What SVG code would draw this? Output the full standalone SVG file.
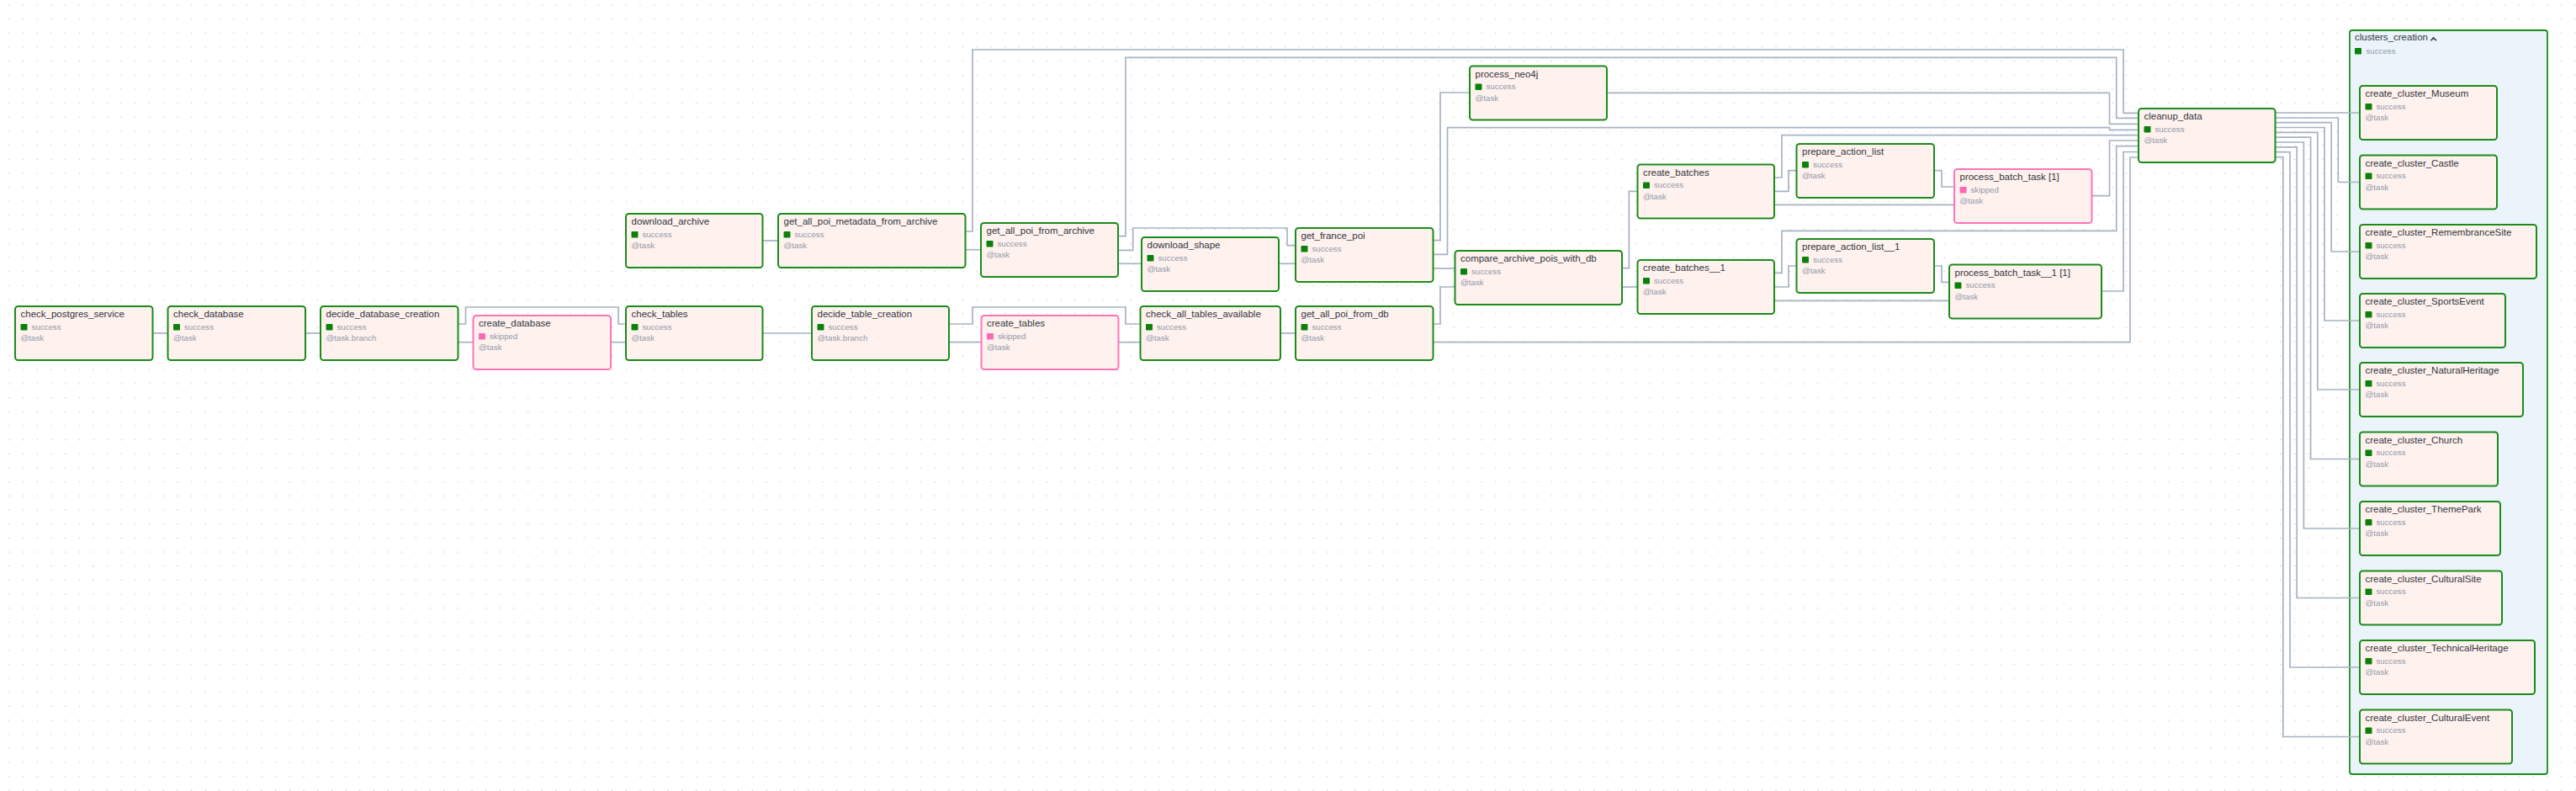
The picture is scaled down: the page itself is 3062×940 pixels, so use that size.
<svg xmlns="http://www.w3.org/2000/svg" width="3062" height="940" viewBox="0 0 3062 940">
<defs>
<pattern id="dots" x="2.67" y="-2.33" width="16.667" height="16.667" patternUnits="userSpaceOnUse"><circle cx="8.33" cy="8.33" r="0.75" fill="#c4c4c4"/></pattern>
<style>
.bg{fill:url(#dots)}
.node rect.box{fill:#fff1ee;stroke:#1a8c1a;stroke-width:2}
.node.skip rect.box{stroke:#ff74b8}
.sq{fill:#0a820a}
.skip .sq{fill:#ff69b4}
.t{font-family:"Liberation Sans",Arial,sans-serif;font-size:11.5px;fill:#2f3640}
.s{font-family:"Liberation Sans",Arial,sans-serif;font-size:9.7px;fill:#8f99aa}
.edges polyline{fill:none;stroke:#a6b2c4;stroke-width:1.7;stroke-linejoin:miter}
.grp{fill:#ecf4fb;stroke:#1a8c1a;stroke-width:1.8}
</style>
</defs>
<rect width="3062" height="940" fill="#ffffff"/>
<rect width="3062" height="940" class="bg"/>

<g id="clusters_creation">
<rect class="grp" x="2793" y="36" width="235" height="884" rx="3"/>
<text class="t" x="2799" y="48.3">clusters_creation</text>
<polyline points="2889.5,48.3 2892.7,45 2895.9,48.3" fill="none" stroke="#2f3640" stroke-width="1.6"/>
<rect class="sq" x="2799" y="57" width="8" height="7.5" rx="1"/>
<text class="s" x="2812.5" y="63.5">success</text>
</g>

<g id="edges" class="edges">
<polyline points="181.5,396 199.5,396"/>
<polyline points="363,396 381,396"/>
<polyline points="544.5,385 553.5,385 553.5,365 735,365 735,385 744,385"/>
<polyline points="544.5,406.7 562.5,406.7"/>
<polyline points="726,406.7 744,406.7"/>
<polyline points="906.5,396 965,396"/>
<polyline points="906.5,286 925,286"/>
<polyline points="1128,385 1156,385 1156,365 1338,365 1338,385 1355.5,385"/>
<polyline points="1128,406.7 1166.5,406.7"/>
<polyline points="1329.5,406.7 1355.5,406.7"/>
<polyline points="1147.5,296.7 1166,296.7"/>
<polyline points="1147.5,275 1156,275 1156,59 2524,59 2524,134.3 2542,134.3"/>
<polyline points="1329,280.7 1338,280.7 1338,68.3 2515.7,68.3 2515.7,140.3 2542,140.3"/>
<polyline points="1329,297.3 1346.7,297.3 1346.7,271 1530,271 1530,291.7 1540,291.7"/>
<polyline points="1329,313.3 1357,313.3"/>
<polyline points="1520,313.3 1540,313.3"/>
<polyline points="1522,396 1540,396"/>
<polyline points="1703.5,285.7 1712,285.7 1712,110 1747,110"/>
<polyline points="1703.5,302.3 1720.5,302.3 1720.5,151.7 2507.5,151.7 2507.5,154.3 2542,154.3"/>
<polyline points="1703.5,319 1729.5,319"/>
<polyline points="1703.5,385 1712,385 1712,341 1729.5,341"/>
<polyline points="1703.5,406.7 2532,406.7 2532,187 2542,187"/>
<polyline points="1910,110.3 2507.5,110.3 2507.5,147.3 2542,147.3"/>
<polyline points="1928,318.7 1936.4,318.7 1936.4,227.3 1946.5,227.3"/>
<polyline points="1928,341 1946.5,341"/>
<polyline points="2109,211 2118,211 2118,160.7 2542,160.7"/>
<polyline points="2109,227.3 2126,227.3 2126,202.7 2135.5,202.7"/>
<polyline points="2109,243.3 2323,243.3"/>
<polyline points="2109,324.3 2118,324.3 2118,274.3 2515.7,274.3 2515.7,173.7 2542,173.7"/>
<polyline points="2109,341 2126,341 2126,316 2135.5,316"/>
<polyline points="2109,357.3 2317,357.3"/>
<polyline points="2299,202.7 2308,202.7 2308,222 2323,222"/>
<polyline points="2299,316 2308,316 2308,335.3 2317,335.3"/>
<polyline points="2486.5,232.7 2507.5,232.7 2507.5,167 2542,167"/>
<polyline points="2498,346 2524,346 2524,180.5 2542,180.5"/>
<polyline points="2704.5,134 2805,134"/>
<polyline points="2704.5,140 2779.3,140 2779.3,216.5 2805,216.5"/>
<polyline points="2704.5,145.7 2771.2,145.7 2771.2,299 2805,299"/>
<polyline points="2704.5,151.5 2763,151.5 2763,381 2805,381"/>
<polyline points="2704.5,157.3 2754.8,157.3 2754.8,463 2805,463"/>
<polyline points="2704.5,163.2 2746.6,163.2 2746.6,545.5 2805,545.5"/>
<polyline points="2704.5,169 2738.4,169 2738.4,628 2805,628"/>
<polyline points="2704.5,174.9 2730.2,174.9 2730.2,710.5 2805,710.5"/>
<polyline points="2704.5,180.7 2722,180.7 2722,793 2805,793"/>
<polyline points="2704.5,186.6 2713.8,186.6 2713.8,875.5 2805,875.5"/>
</g>

<g id="check_postgres_service" class="node" transform="translate(18,364)"><rect class="box" width="163.5" height="64" rx="3.5"/><text class="t" x="6.5" y="13">check_postgres_service</text><rect class="sq" x="6.5" y="21" width="8" height="7.5" rx="1"/><text class="s" x="19.5" y="27.5">success</text><text class="s" x="6.5" y="41">@task</text></g>
<g id="check_database" class="node" transform="translate(199.5,364)"><rect class="box" width="163.5" height="64" rx="3.5"/><text class="t" x="6.5" y="13">check_database</text><rect class="sq" x="6.5" y="21" width="8" height="7.5" rx="1"/><text class="s" x="19.5" y="27.5">success</text><text class="s" x="6.5" y="41">@task</text></g>
<g id="decide_database_creation" class="node" transform="translate(381,364)"><rect class="box" width="163.5" height="64" rx="3.5"/><text class="t" x="6.5" y="13">decide_database_creation</text><rect class="sq" x="6.5" y="21" width="8" height="7.5" rx="1"/><text class="s" x="19.5" y="27.5">success</text><text class="s" x="6.5" y="41">@task.branch</text></g>
<g id="create_database" class="node skip" transform="translate(562.5,375)"><rect class="box" width="163.5" height="64" rx="3.5"/><text class="t" x="6.5" y="13">create_database</text><rect class="sq" x="6.5" y="21" width="8" height="7.5" rx="1"/><text class="s" x="19.5" y="27.5">skipped</text><text class="s" x="6.5" y="41">@task</text></g>
<g id="download_archive" class="node" transform="translate(744,254)"><rect class="box" width="162.5" height="64" rx="3.5"/><text class="t" x="6.5" y="13">download_archive</text><rect class="sq" x="6.5" y="21" width="8" height="7.5" rx="1"/><text class="s" x="19.5" y="27.5">success</text><text class="s" x="6.5" y="41">@task</text></g>
<g id="check_tables" class="node" transform="translate(744,364)"><rect class="box" width="162.5" height="64" rx="3.5"/><text class="t" x="6.5" y="13">check_tables</text><rect class="sq" x="6.5" y="21" width="8" height="7.5" rx="1"/><text class="s" x="19.5" y="27.5">success</text><text class="s" x="6.5" y="41">@task</text></g>
<g id="get_all_poi_metadata_from_archive" class="node" transform="translate(925,254)"><rect class="box" width="222.5" height="64" rx="3.5"/><text class="t" x="6.5" y="13">get_all_poi_metadata_from_archive</text><rect class="sq" x="6.5" y="21" width="8" height="7.5" rx="1"/><text class="s" x="19.5" y="27.5">success</text><text class="s" x="6.5" y="41">@task</text></g>
<g id="decide_table_creation" class="node" transform="translate(965,364)"><rect class="box" width="163" height="64" rx="3.5"/><text class="t" x="6.5" y="13">decide_table_creation</text><rect class="sq" x="6.5" y="21" width="8" height="7.5" rx="1"/><text class="s" x="19.5" y="27.5">success</text><text class="s" x="6.5" y="41">@task.branch</text></g>
<g id="get_all_poi_from_archive" class="node" transform="translate(1166,265)"><rect class="box" width="163" height="64" rx="3.5"/><text class="t" x="6.5" y="13">get_all_poi_from_archive</text><rect class="sq" x="6.5" y="21" width="8" height="7.5" rx="1"/><text class="s" x="19.5" y="27.5">success</text><text class="s" x="6.5" y="41">@task</text></g>
<g id="create_tables" class="node skip" transform="translate(1166.5,375)"><rect class="box" width="163" height="64" rx="3.5"/><text class="t" x="6.5" y="13">create_tables</text><rect class="sq" x="6.5" y="21" width="8" height="7.5" rx="1"/><text class="s" x="19.5" y="27.5">skipped</text><text class="s" x="6.5" y="41">@task</text></g>
<g id="download_shape" class="node" transform="translate(1357,282)"><rect class="box" width="163" height="64" rx="3.5"/><text class="t" x="6.5" y="13">download_shape</text><rect class="sq" x="6.5" y="21" width="8" height="7.5" rx="1"/><text class="s" x="19.5" y="27.5">success</text><text class="s" x="6.5" y="41">@task</text></g>
<g id="check_all_tables_available" class="node" transform="translate(1355.5,364)"><rect class="box" width="166.5" height="64" rx="3.5"/><text class="t" x="6.5" y="13">check_all_tables_available</text><rect class="sq" x="6.5" y="21" width="8" height="7.5" rx="1"/><text class="s" x="19.5" y="27.5">success</text><text class="s" x="6.5" y="41">@task</text></g>
<g id="get_france_poi" class="node" transform="translate(1540,271)"><rect class="box" width="163.5" height="64" rx="3.5"/><text class="t" x="6.5" y="13">get_france_poi</text><rect class="sq" x="6.5" y="21" width="8" height="7.5" rx="1"/><text class="s" x="19.5" y="27.5">success</text><text class="s" x="6.5" y="41">@task</text></g>
<g id="get_all_poi_from_db" class="node" transform="translate(1540,364)"><rect class="box" width="163.5" height="64" rx="3.5"/><text class="t" x="6.5" y="13">get_all_poi_from_db</text><rect class="sq" x="6.5" y="21" width="8" height="7.5" rx="1"/><text class="s" x="19.5" y="27.5">success</text><text class="s" x="6.5" y="41">@task</text></g>
<g id="process_neo4j" class="node" transform="translate(1747,78.5)"><rect class="box" width="163" height="64" rx="3.5"/><text class="t" x="6.5" y="13">process_neo4j</text><rect class="sq" x="6.5" y="21" width="8" height="7.5" rx="1"/><text class="s" x="19.5" y="27.5">success</text><text class="s" x="6.5" y="41">@task</text></g>
<g id="compare_archive_pois_with_db" class="node" transform="translate(1729.5,298)"><rect class="box" width="198.5" height="64" rx="3.5"/><text class="t" x="6.5" y="13">compare_archive_pois_with_db</text><rect class="sq" x="6.5" y="21" width="8" height="7.5" rx="1"/><text class="s" x="19.5" y="27.5">success</text><text class="s" x="6.5" y="41">@task</text></g>
<g id="create_batches" class="node" transform="translate(1946.5,195.5)"><rect class="box" width="162.5" height="64" rx="3.5"/><text class="t" x="6.5" y="13">create_batches</text><rect class="sq" x="6.5" y="21" width="8" height="7.5" rx="1"/><text class="s" x="19.5" y="27.5">success</text><text class="s" x="6.5" y="41">@task</text></g>
<g id="create_batches__1" class="node" transform="translate(1946.5,309)"><rect class="box" width="162.5" height="64" rx="3.5"/><text class="t" x="6.5" y="13">create_batches__1</text><rect class="sq" x="6.5" y="21" width="8" height="7.5" rx="1"/><text class="s" x="19.5" y="27.5">success</text><text class="s" x="6.5" y="41">@task</text></g>
<g id="prepare_action_list" class="node" transform="translate(2135.5,171)"><rect class="box" width="163.5" height="64" rx="3.5"/><text class="t" x="6.5" y="13">prepare_action_list</text><rect class="sq" x="6.5" y="21" width="8" height="7.5" rx="1"/><text class="s" x="19.5" y="27.5">success</text><text class="s" x="6.5" y="41">@task</text></g>
<g id="prepare_action_list__1" class="node" transform="translate(2135.5,284)"><rect class="box" width="163.5" height="64" rx="3.5"/><text class="t" x="6.5" y="13">prepare_action_list__1</text><rect class="sq" x="6.5" y="21" width="8" height="7.5" rx="1"/><text class="s" x="19.5" y="27.5">success</text><text class="s" x="6.5" y="41">@task</text></g>
<g id="process_batch_task_1" class="node skip" transform="translate(2323,201)"><rect class="box" width="163.5" height="64" rx="3.5"/><text class="t" x="6.5" y="13">process_batch_task [1]</text><rect class="sq" x="6.5" y="21" width="8" height="7.5" rx="1"/><text class="s" x="19.5" y="27.5">skipped</text><text class="s" x="6.5" y="41">@task</text></g>
<g id="process_batch_task__1_1" class="node" transform="translate(2317,314.5)"><rect class="box" width="181" height="64" rx="3.5"/><text class="t" x="6.5" y="13">process_batch_task__1 [1]</text><rect class="sq" x="6.5" y="21" width="8" height="7.5" rx="1"/><text class="s" x="19.5" y="27.5">success</text><text class="s" x="6.5" y="41">@task</text></g>
<g id="cleanup_data" class="node" transform="translate(2542,129)"><rect class="box" width="162.5" height="64" rx="3.5"/><text class="t" x="6.5" y="13">cleanup_data</text><rect class="sq" x="6.5" y="21" width="8" height="7.5" rx="1"/><text class="s" x="19.5" y="27.5">success</text><text class="s" x="6.5" y="41">@task</text></g>

<g id="create_cluster_Museum" class="node" transform="translate(2805,102)"><rect class="box" width="163" height="64" rx="3.5"/><text class="t" x="6.5" y="13">create_cluster_Museum</text><rect class="sq" x="6.5" y="21" width="8" height="7.5" rx="1"/><text class="s" x="19.5" y="27.5">success</text><text class="s" x="6.5" y="41">@task</text></g>
<g id="create_cluster_Castle" class="node" transform="translate(2805,184.5)"><rect class="box" width="163" height="64" rx="3.5"/><text class="t" x="6.5" y="13">create_cluster_Castle</text><rect class="sq" x="6.5" y="21" width="8" height="7.5" rx="1"/><text class="s" x="19.5" y="27.5">success</text><text class="s" x="6.5" y="41">@task</text></g>
<g id="create_cluster_RemembranceSite" class="node" transform="translate(2805,267)"><rect class="box" width="210" height="64" rx="3.5"/><text class="t" x="6.5" y="13">create_cluster_RemembranceSite</text><rect class="sq" x="6.5" y="21" width="8" height="7.5" rx="1"/><text class="s" x="19.5" y="27.5">success</text><text class="s" x="6.5" y="41">@task</text></g>
<g id="create_cluster_SportsEvent" class="node" transform="translate(2805,349)"><rect class="box" width="173" height="64" rx="3.5"/><text class="t" x="6.5" y="13">create_cluster_SportsEvent</text><rect class="sq" x="6.5" y="21" width="8" height="7.5" rx="1"/><text class="s" x="19.5" y="27.5">success</text><text class="s" x="6.5" y="41">@task</text></g>
<g id="create_cluster_NaturalHeritage" class="node" transform="translate(2805,431)"><rect class="box" width="194" height="64" rx="3.5"/><text class="t" x="6.5" y="13">create_cluster_NaturalHeritage</text><rect class="sq" x="6.5" y="21" width="8" height="7.5" rx="1"/><text class="s" x="19.5" y="27.5">success</text><text class="s" x="6.5" y="41">@task</text></g>
<g id="create_cluster_Church" class="node" transform="translate(2805,513.5)"><rect class="box" width="164" height="64" rx="3.5"/><text class="t" x="6.5" y="13">create_cluster_Church</text><rect class="sq" x="6.5" y="21" width="8" height="7.5" rx="1"/><text class="s" x="19.5" y="27.5">success</text><text class="s" x="6.5" y="41">@task</text></g>
<g id="create_cluster_ThemePark" class="node" transform="translate(2805,596)"><rect class="box" width="167" height="64" rx="3.5"/><text class="t" x="6.5" y="13">create_cluster_ThemePark</text><rect class="sq" x="6.5" y="21" width="8" height="7.5" rx="1"/><text class="s" x="19.5" y="27.5">success</text><text class="s" x="6.5" y="41">@task</text></g>
<g id="create_cluster_CulturalSite" class="node" transform="translate(2805,678.5)"><rect class="box" width="169" height="64" rx="3.5"/><text class="t" x="6.5" y="13">create_cluster_CulturalSite</text><rect class="sq" x="6.5" y="21" width="8" height="7.5" rx="1"/><text class="s" x="19.5" y="27.5">success</text><text class="s" x="6.5" y="41">@task</text></g>
<g id="create_cluster_TechnicalHeritage" class="node" transform="translate(2805,761)"><rect class="box" width="208" height="64" rx="3.5"/><text class="t" x="6.5" y="13">create_cluster_TechnicalHeritage</text><rect class="sq" x="6.5" y="21" width="8" height="7.5" rx="1"/><text class="s" x="19.5" y="27.5">success</text><text class="s" x="6.5" y="41">@task</text></g>
<g id="create_cluster_CulturalEvent" class="node" transform="translate(2805,843.5)"><rect class="box" width="181" height="64" rx="3.5"/><text class="t" x="6.5" y="13">create_cluster_CulturalEvent</text><rect class="sq" x="6.5" y="21" width="8" height="7.5" rx="1"/><text class="s" x="19.5" y="27.5">success</text><text class="s" x="6.5" y="41">@task</text></g>
</svg>
